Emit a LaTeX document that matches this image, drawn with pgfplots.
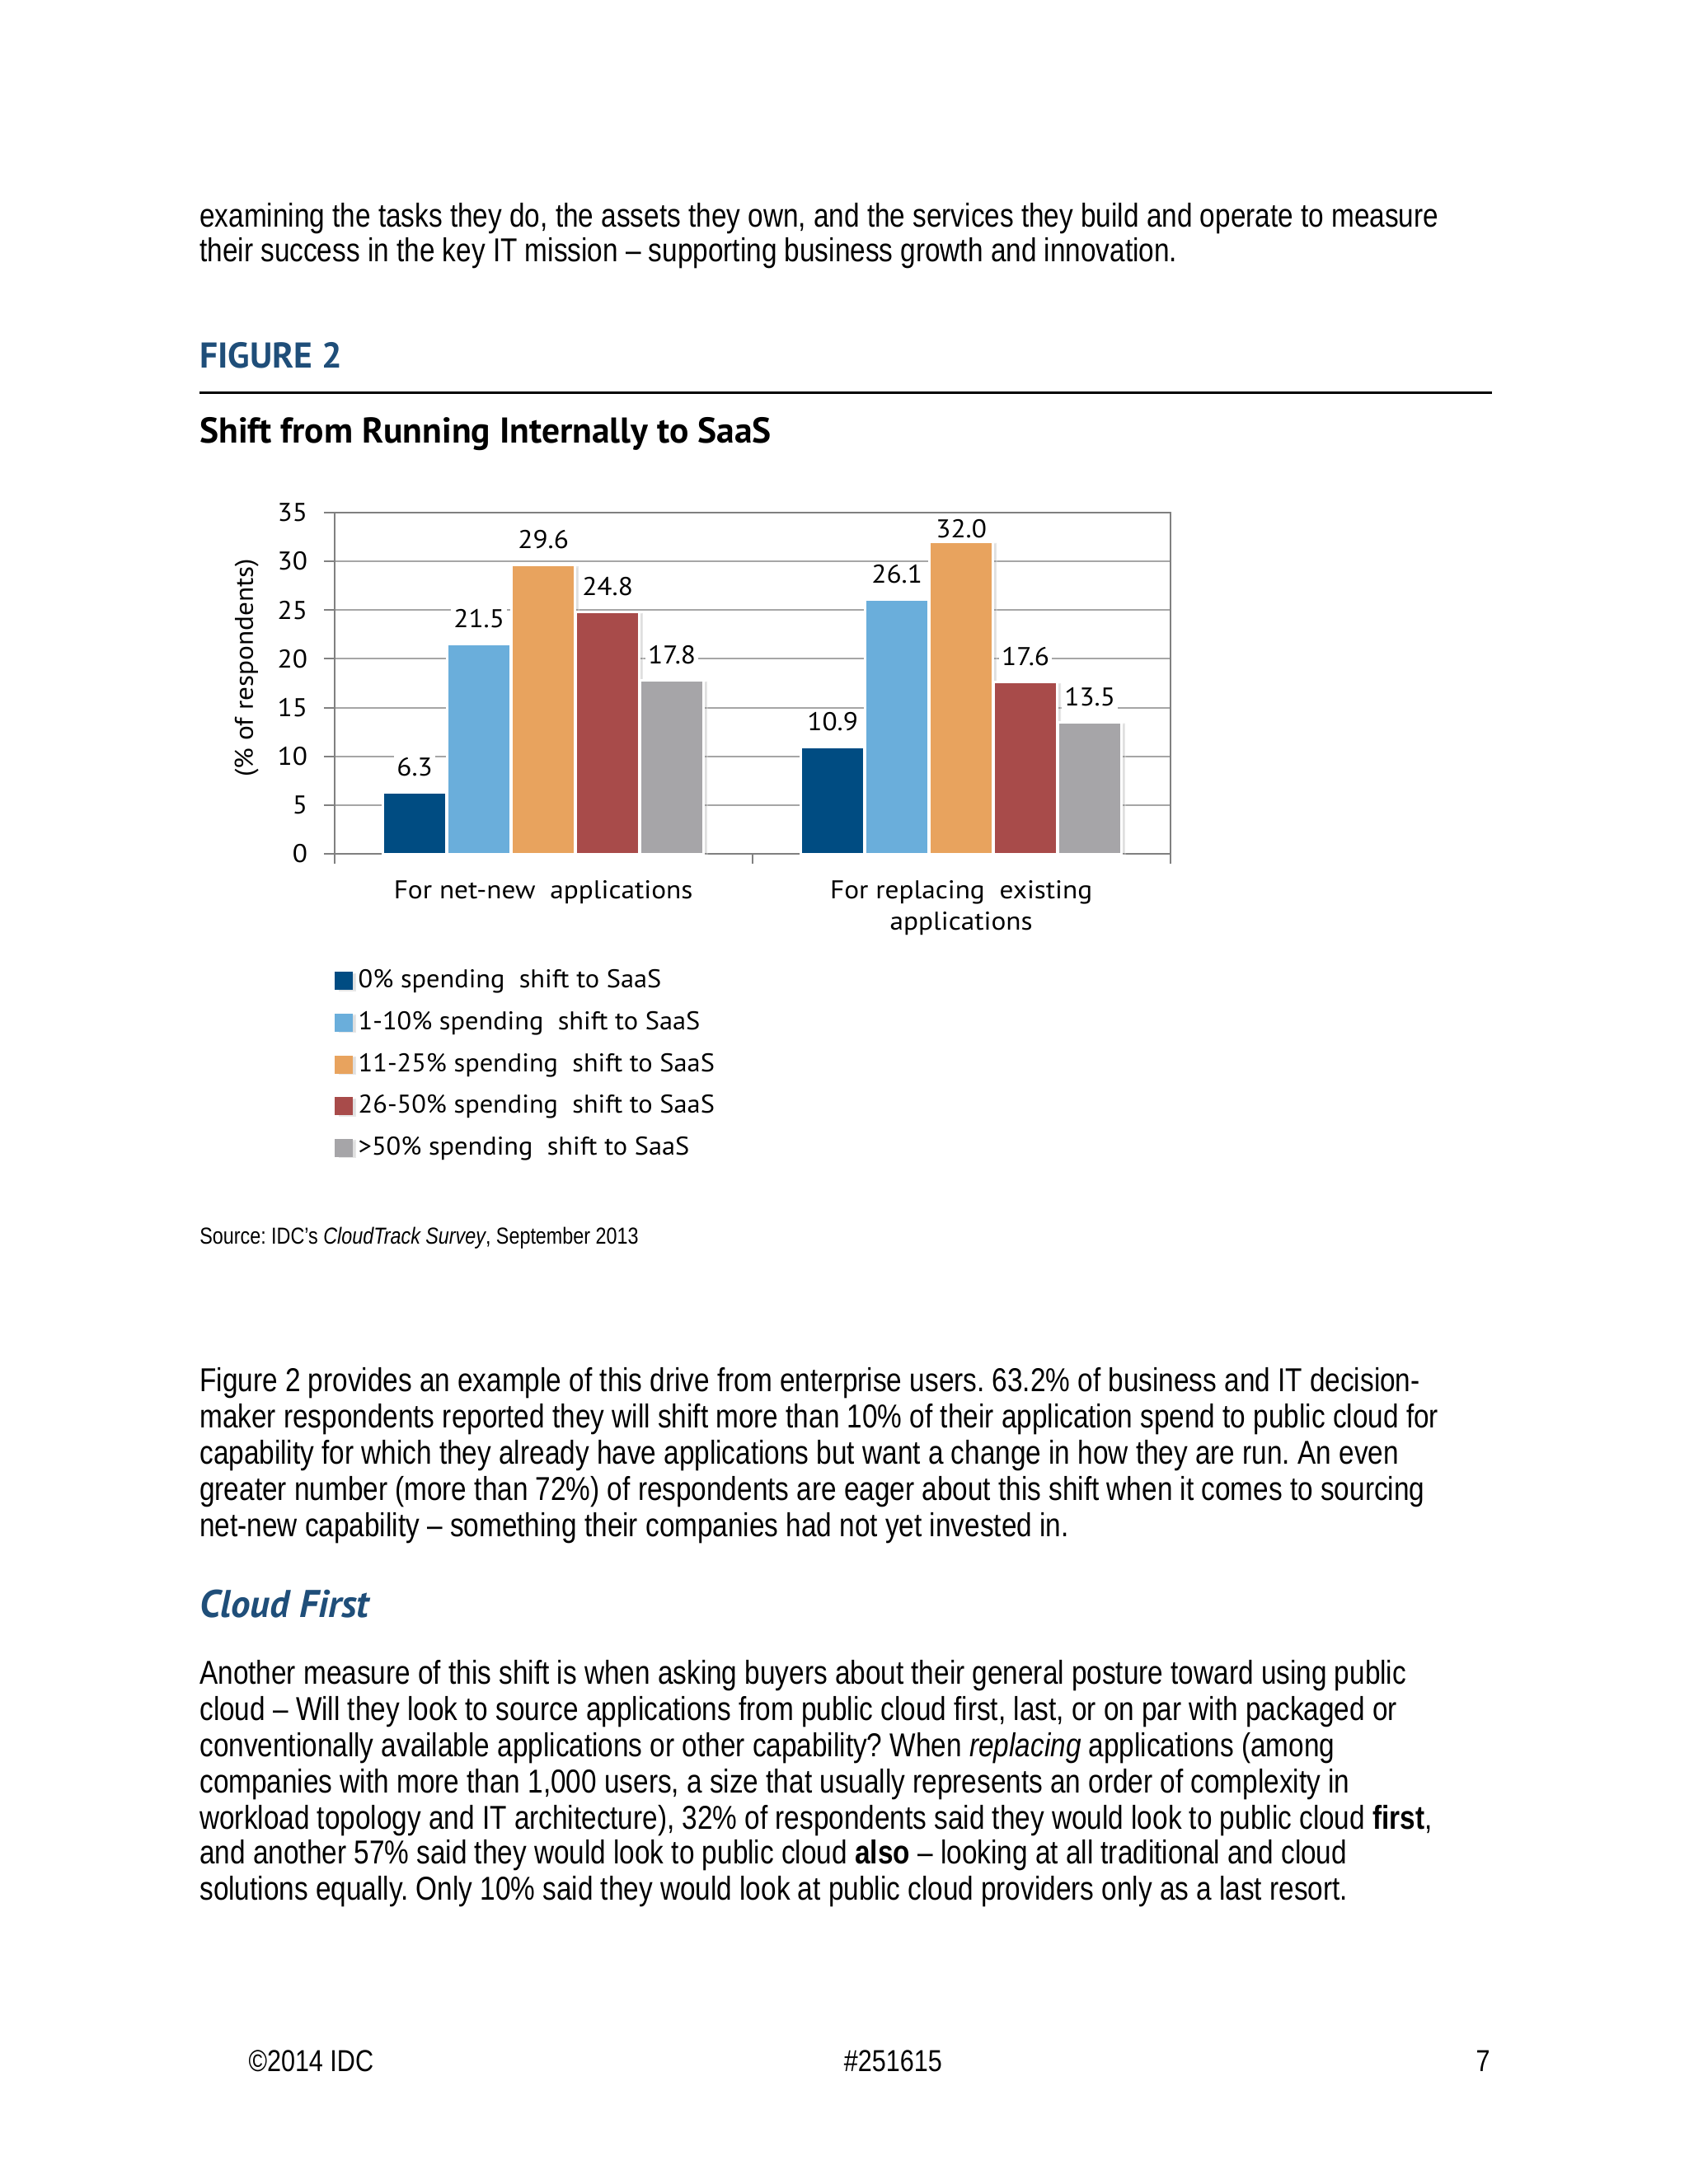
\documentclass[border=0pt]{standalone}
\usepackage{fontspec}
\setmainfont{Liberation Sans}[FakeStretch=0.83]
\newfontfamily\chartfont{PT Sans}[FakeStretch=1.07]
\newfontfamily\legfont{PT Sans}[FakeStretch=1.04]
\newfontfamily\headfont{PT Sans}
\usepackage{pgfplots}
\pgfplotsset{compat=1.18}
\usetikzlibrary{shadows}

\definecolor{cA}{HTML}{004C82}
\definecolor{cB}{HTML}{6AAEDB}
\definecolor{cC}{HTML}{E8A35E}
\definecolor{cD}{HTML}{A84B4A}
\definecolor{cE}{HTML}{A6A5A8}
\definecolor{headblue}{HTML}{1F4E79}

% one line of page text, baseline at y (px of a 1212 wide page)
\newcommand\tl[2]{\node[anchor=base west,inner sep=0pt] at (143,#1) {#2};}
\newcommand\chartsize{\chartfont\fontsize{9.3}{11.2}\selectfont}

\begin{document}
\frenchspacing
\begin{tikzpicture}
\begin{scope}[x=0.50495pt,y=-0.50495pt,font=\fontsize{12}{13}\selectfont]
\fill[white] (0,0) rectangle (1212,1568);
\tl{163}{examining the tasks they do, the assets they own, and the services they build and operate to measure}
\tl{188}{their success in the key IT mission – supporting business growth and innovation.}
\tl{264}{\headfont\bfseries\fontsize{13}{15}\selectfont\color{headblue}FIGURE 2}
\draw[line width=0.7pt] (143,282) -- (1071,282);
\tl{318}{\headfont\bfseries\fontsize{13}{15}\selectfont Shift from Running Internally to SaaS}
\tl{893}{\fontsize{8.4}{10}\selectfont Source: IDC's \textit{CloudTrack Survey}, September 2013}
\tl{999}{Figure 2 provides an example of this drive from enterprise users. 63.2\% of business and IT decision-}
\tl{1025}{maker respondents reported they will shift more than 10\% of their application spend to public cloud for}
\tl{1051}{capability for which they already have applications but want a change in how they are run. An even}
\tl{1077}{greater number (more than 72\%) of respondents are eager about this shift when it comes to sourcing}
\tl{1103}{net-new capability – something their companies had not yet invested in.}
\tl{1161}{\headfont\bfseries\itshape\fontsize{14}{16}\selectfont\color{headblue}Cloud First}
\tl{1209}{Another measure of this shift is when asking buyers about their general posture toward using public}
\tl{1235}{cloud – Will they look to source applications from public cloud first, last, or on par with packaged or}
\tl{1261}{conventionally available applications or other capability? When \textit{replacing} applications (among}
\tl{1287}{companies with more than 1,000 users, a size that usually represents an order of complexity in}
\tl{1313}{workload topology and IT architecture), 32\% of respondents said they would look to public cloud \textbf{first},}
\tl{1338}{and another 57\% said they would look to public cloud \textbf{also} – looking at all traditional and cloud}
\tl{1364}{solutions equally. Only 10\% said they would look at public cloud providers only as a last resort.}
\node[anchor=base west,inner sep=0pt,font=\fontsize{11}{13}\selectfont] at (178,1487) {©2014 IDC};
\node[anchor=base,inner sep=0pt,font=\fontsize{11}{13}\selectfont] at (641,1487) {\#251615};
\node[anchor=base east,inner sep=0pt,font=\fontsize{11}{13}\selectfont] at (1070,1487) {7};
\end{scope}

\begin{axis}[
    at={(121.19pt,-309.53pt)}, anchor=south west,
    width=302.97pt, height=123.71pt, scale only axis,
    ybar=0.3pt, bar width=23pt,
    xmin=-0.5, xmax=1.5, ymin=0, ymax=35,
    xtick={0,1},
    xticklabels={For net-new\ \ applications,{For replacing\ \ existing\\applications}},
    minor xtick={-0.5,0.5,1.5},
    ytick={0,5,...,35},
    tick pos=left, tick align=outside,
    major tick length=3.7pt, minor tick length=3.7pt,
    major x tick style={draw=none},
    tick style={gray, line width=0.6pt},
    axis line style={gray, line width=0.6pt},
    ymajorgrids, grid style={gray!70, line width=0.6pt},
    ticklabel style={font=\chartsize},
    xticklabel style={align=center, yshift=-2.5pt},
    yticklabel style={xshift=-2.5pt},
    /pgf/number format/assume math mode=true,
    ylabel={(\% of respondents)},
    ylabel style={font=\chartsize, at={(axis description cs:-0.105,0.545)}, anchor=center},
    nodes near coords={\pgfmathprintnumber[fixed,fixed zerofill,precision=1]{\pgfplotspointmeta}},
    every node near coord/.append style={font=\chartsize, text=black, fill=white, inner sep=1pt, yshift=4.5pt},
    coordinate style/.condition={meta>31}{yshift=-4.5pt},
    legend style={at={(axis description cs:0,-0.322)}, anchor=north west, draw=none, fill=none,
        font=\legfont\fontsize{9.3}{11.2}\selectfont, row sep=3pt, inner sep=0pt, cells={anchor=west}},
    legend image code/.code={\fill[#1,draw=none] (0pt,-3.3pt) rectangle (6.5pt,3.3pt);},
    every axis plot/.append style={draw=white, line width=0.8pt,
        drop shadow={shadow xshift=1.3pt, shadow yshift=-0.4pt, opacity=0.25}},
]
\addplot[fill=cA] coordinates {(0,6.3) (1,10.9)};
\addplot[fill=cB] coordinates {(0,21.5) (1,26.1)};
\addplot[fill=cC] coordinates {(0,29.6) (1,32.0)};
\addplot[fill=cD] coordinates {(0,24.8) (1,17.6)};
\addplot[fill=cE] coordinates {(0,17.8) (1,13.5)};
\legend{0\% spending\ \ shift to SaaS,1-10\% spending\ \ shift to SaaS,11-25\% spending\ \ shift to SaaS,26-50\% spending\ \ shift to SaaS,>50\% spending\ \ shift to SaaS}
\end{axis}
\end{tikzpicture}
\end{document}
